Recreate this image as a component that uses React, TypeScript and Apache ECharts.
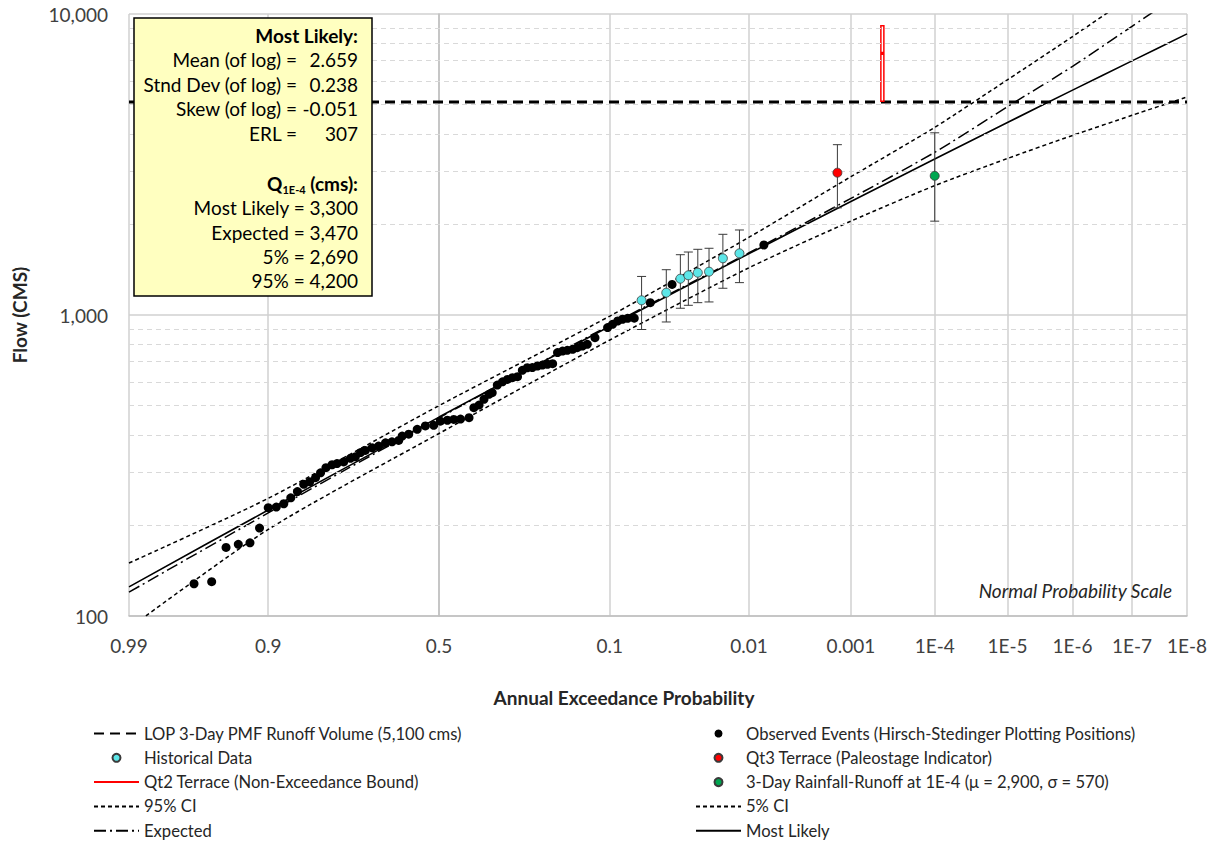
import React, { useEffect, useRef } from 'react';
import * as echarts from 'echarts';

// ---------- axis ticks ----------
const TICK_AEP = [0.99, 0.9, 0.5, 0.1, 0.01, 0.001, 1e-4, 1e-5, 1e-6, 1e-7, 1e-8];
const TICK_LABELS = ['0.99', '0.9', '0.5', '0.1', '0.01', '0.001', '1E-4', '1E-5', '1E-6', '1E-7', '1E-8'];
const Y_MINOR = [200, 300, 400, 500, 600, 700, 800, 900, 2000, 3000, 4000, 5000, 6000, 7000, 8000, 9000];

// ---------- observed events (Hirsch-Stedinger plotting positions) ----------
const OBS_AEP = [0.967, 0.956, 0.945, 0.934, 0.922, 0.911, 0.9, 0.889, 0.878, 0.867, 0.856, 0.845, 0.834, 0.823, 0.813, 0.802, 0.789, 0.778, 0.763, 0.747, 0.735, 0.722, 0.71, 0.692, 0.675, 0.656, 0.638, 0.619, 0.609, 0.59, 0.565, 0.541, 0.516, 0.496, 0.475, 0.456, 0.436, 0.411, 0.397, 0.382, 0.368, 0.354, 0.345, 0.331, 0.317, 0.304, 0.291, 0.278, 0.266, 0.254, 0.242, 0.23, 0.219, 0.208, 0.197, 0.187, 0.177, 0.168, 0.158, 0.15, 0.141, 0.133, 0.121, 0.103, 0.0965, 0.0901, 0.0843, 0.0785, 0.0715, 0.0565, 0.0402, 0.0074];
const OBS_Q = [128, 130, 169, 173, 175, 196, 229, 230, 236, 247, 259, 274, 279, 288, 299, 311, 318, 321, 325, 334, 338, 349, 355, 362, 367, 376, 379, 383, 396, 402, 417, 428, 430, 444, 447, 450, 451, 456, 492, 502, 525, 545, 552, 585, 600, 611, 619, 624, 655, 668, 669, 677, 682, 686, 689, 750, 759, 763, 769, 779, 789, 799, 841, 908, 931, 955, 968, 975, 976, 1099, 1263, 1708];

// ---------- historical data ----------
const HIST_AEP = [0.0643, 0.0441, 0.0351, 0.0307, 0.0261, 0.0214, 0.0166, 0.0121];
const HIST_Q = [1119, 1186, 1320, 1355, 1382, 1393, 1543, 1603];
const HIST_LO = [895, 948, 1053, 1077, 1099, 1105, 1227, 1281];
const HIST_HI = [1343, 1414, 1586, 1619, 1653, 1666, 1854, 1916];

// ---------- paleo / rainfall-runoff ----------
const QT3_AEP = 0.0014, QT3_Q = 2970, QT3_LO = 2270, QT3_HI = 3680;
const RR_AEP = 1e-4, RR_Q = 2900, RR_LO = 2050, RR_HI = 4030;
const QT2_AEP = 0.00044, QT2_LO = 5100, QT2_MID = 7400, QT2_HI = 9200;
const PMF_Q = 5100;

// ---------- frequency curves ----------
const CURVE_AEP = [0.99, 0.9, 0.5, 0.1, 0.01, 0.001, 1e-4, 1e-5, 1e-6, 1e-7, 1e-8];
const ML_Q = [125, 225, 458, 918, 1599, 2384, 3298, 4361, 5585, 6986, 8590];
const EXP_Q = [120, 220, 455, 925, 1610, 2440, 3470, 4920, 6700, 9100, 12100];
const CI95_Q = [150, 246, 500, 992, 1813, 2880, 4200, 6046, 8418, 11480, 15300];
const CI5_Q = [91, 194, 404, 826, 1436, 2050, 2690, 3311, 3950, 4607, 5300];

// ---------- names ----------
const N_PMF = 'LOP 3-Day PMF Runoff Volume (5,100 cms)';
const N_OBS = 'Observed Events (Hirsch-Stedinger Plotting Positions)';
const N_HIST = 'Historical Data';
const N_QT3 = 'Qt3 Terrace (Paleostage Indicator)';
const N_QT2 = 'Qt2 Terrace (Non-Exceedance Bound)';
const N_RR = '3-Day Rainfall-Runoff at 1E-4 (\u03bc = 2,900, \u03c3 = 570)';
const N_95 = '95% CI';
const N_5 = '5% CI';
const N_EXP = 'Expected';
const N_ML = 'Most Likely';

// normal probability scale: AEP -> standard normal variate (Acklam)
function normInv(p: number): number {
  const a = [-3.969683028665376e1, 2.209460984245205e2, -2.759285104469687e2, 1.38357751867269e2, -3.066479806614716e1, 2.506628277459239];
  const b = [-5.447609879822406e1, 1.615858368580409e2, -1.556989798598866e2, 6.680131188771972e1, -1.328068155288572e1];
  const c = [-7.784894002430293e-3, -3.223964580411365e-1, -2.400758277161838, -2.549732539343734, 4.374664141464968, 2.938163982698783];
  const d = [7.784695709041462e-3, 3.224671290700398e-1, 2.445134137142996, 3.754408661907416];
  const pl = 0.02425;
  if (p < pl) {
    const q = Math.sqrt(-2 * Math.log(p));
    return (((((c[0] * q + c[1]) * q + c[2]) * q + c[3]) * q + c[4]) * q + c[5]) / ((((d[0] * q + d[1]) * q + d[2]) * q + d[3]) * q + 1);
  }
  if (p <= 1 - pl) {
    const q = p - 0.5, r = q * q;
    return ((((((a[0] * r + a[1]) * r + a[2]) * r + a[3]) * r + a[4]) * r + a[5]) * q) / (((((b[0] * r + b[1]) * r + b[2]) * r + b[3]) * r + b[4]) * r + 1);
  }
  const q = Math.sqrt(-2 * Math.log(1 - p));
  return -(((((c[0] * q + c[1]) * q + c[2]) * q + c[3]) * q + c[4]) * q + c[5]) / ((((d[0] * q + d[1]) * q + d[2]) * q + d[3]) * q + 1);
}
const zOf = (aep: number) => -normInv(aep);

const Z_TICKS = TICK_AEP.map(zOf);
const X_MIN = Z_TICKS[0];
const X_MAX = Z_TICKS[Z_TICKS.length - 1];

const FONT = 'Lato, "Open Sans", sans-serif';
const TXT = '#262626';

function tickLabel(v: number): string {
  let best = 0;
  for (let i = 1; i < Z_TICKS.length; i++) {
    if (Math.abs(Z_TICKS[i] - v) < Math.abs(Z_TICKS[best] - v)) best = i;
  }
  return TICK_LABELS[best];
}

function errRender(cap: number) {
  return (params: any, api: any) => {
    const x = api.value(0);
    const lo = api.coord([x, api.value(1)]);
    const hi = api.coord([x, api.value(2)]);
    const st = { stroke: '#3A3A3A', lineWidth: 1 };
    return {
      type: 'group',
      children: [
        { type: 'line', shape: { x1: lo[0], y1: lo[1], x2: hi[0], y2: hi[1] }, style: st },
        { type: 'line', shape: { x1: lo[0] - cap, y1: lo[1], x2: lo[0] + cap, y2: lo[1] }, style: st },
        { type: 'line', shape: { x1: hi[0] - cap, y1: hi[1], x2: hi[0] + cap, y2: hi[1] }, style: st },
      ],
    };
  };
}

const curve = (qs: number[]) => CURVE_AEP.map((p, i) => [zOf(p), qs[i]]);
const lineItem = (name: string, extra: any = {}) => ({ name, itemStyle: { opacity: 0 }, ...extra });

function buildOption(): any {
  const zQt2 = zOf(QT2_AEP);
  const boxText = (text: string, x: number, y: number, bold = false) => ({
    type: 'text',
    z: 101,
    x,
    y,
    style: { text, align: 'right', verticalAlign: 'middle', font: `${bold ? 'bold ' : ''}19px ${FONT}`, fill: '#000' },
  });
  const rows = [35, 59.5, 84, 108.5, 133];
  const rows2 = [207.5, 232, 256.5, 280.5];
  const labelCol = 297, valCol = 358;
  const labels = ['Mean (of log) =', 'Stnd Dev (of log) =', 'Skew (of log) =', 'ERL ='];
  const vals = ['2.659', '0.238', '-0.051', '307'];
  const qLines = ['Most Likely = 3,300', 'Expected = 3,470', '5% = 2,690', '95% = 4,200'];

  const graphic: any[] = [
    { type: 'rect', z: 100, shape: { x: 134, y: 18, width: 238, height: 278 }, style: { fill: '#FFFFC0', stroke: '#000', lineWidth: 1.5 } },
    boxText('Most Likely:', valCol, rows[0], true),
    ...labels.map((t, i) => boxText(t, labelCol, rows[i + 1])),
    ...vals.map((t, i) => boxText(t, valCol, rows[i + 1])),
    {
      type: 'text', z: 101, x: valCol, y: 183.5,
      style: {
        text: '{b|Q}{s|1E-4}{b| (cms):}', align: 'right', verticalAlign: 'middle',
        rich: {
          b: { font: `bold 19px ${FONT}`, fill: '#000', lineHeight: 22, verticalAlign: 'middle' },
          s: { font: `bold 11px ${FONT}`, fill: '#000', lineHeight: 8, verticalAlign: 'bottom' },
        },
      },
    },
    ...qLines.map((t, i) => boxText(t, valCol, rows2[i])),
    { type: 'text', z: 101, x: 1172, y: 590, style: { text: 'Normal Probability Scale', align: 'right', verticalAlign: 'middle', font: `italic 19px ${FONT}`, fill: TXT } },
    { type: 'text', z: 101, x: 624, y: 697, style: { text: 'Annual Exceedance Probability', align: 'center', verticalAlign: 'middle', font: `bold 19px ${FONT}`, fill: TXT } },
    { type: 'text', z: 101, x: 19, y: 315, rotation: Math.PI / 2, style: { text: 'Flow (CMS)', align: 'center', verticalAlign: 'middle', font: `bold 19px ${FONT}`, fill: TXT } },
  ];

  const legendBase = {
    orient: 'vertical', top: 725, padding: 0, itemWidth: 45, itemHeight: 8, itemGap: 7.3,
    selectedMode: false,
    textStyle: { fontFamily: FONT, fontSize: 16.6, color: TXT, lineHeight: 17 },
  };

  return {
    animation: false,
    grid: { left: 129, top: 14, width: 1058, height: 602, containLabel: false },
    xAxis: {
      type: 'value', min: X_MIN, max: X_MAX,
      axisLine: { show: true, lineStyle: { color: '#BFBFBF', width: 1.5 } },
      axisTick: { show: false, customValues: Z_TICKS },
      axisLabel: { customValues: Z_TICKS, formatter: (v: number) => tickLabel(v), margin: 20, fontSize: 19, fontFamily: FONT, color: '#404040' },
      splitLine: { show: true, lineStyle: { color: '#D0D0D0', width: 1.5 } },
    },
    yAxis: {
      type: 'log', logBase: 10, min: 100, max: 10000,
      axisLine: { show: true, lineStyle: { color: '#BFBFBF', width: 1.5 } },
      axisTick: { show: false },
      axisLabel: { formatter: (v: number) => Number(v).toLocaleString('en-US'), margin: 21, fontSize: 19, fontFamily: FONT, color: '#404040' },
      splitLine: { show: true, lineStyle: { color: '#D0D0D0', width: 1.5 } },
    },
    legend: [
      {
        ...legendBase, left: 93,
        data: [lineItem(N_PMF), N_HIST, lineItem(N_QT2, { lineStyle: { width: 2 } }), lineItem(N_95), lineItem(N_EXP)],
      },
      {
        ...legendBase, left: 695,
        data: [N_OBS, N_QT3, N_RR, lineItem(N_5), lineItem(N_ML)],
      },
    ],
    graphic,
    series: [
      {
        name: '_grid', type: 'line', data: [[X_MIN, 100]], symbol: 'none', silent: true,
        lineStyle: { opacity: 0 }, z: 1,
        markLine: {
          silent: true, symbol: 'none', label: { show: false },
          lineStyle: { type: [5, 4], color: '#D9D9D9', width: 1 },
          data: Y_MINOR.map((v) => ({ yAxis: v })),
        },
      },
      { name: N_95, type: 'line', data: curve(CI95_Q), symbol: 'none', smooth: 0.25, itemStyle: { color: '#000' }, lineStyle: { color: '#000', width: 1.5, type: [4, 3] }, z: 3 },
      { name: N_5, type: 'line', data: curve(CI5_Q), symbol: 'none', smooth: 0.25, itemStyle: { color: '#000' }, lineStyle: { color: '#000', width: 1.5, type: [4, 3] }, z: 3 },
      { name: N_EXP, type: 'line', data: curve(EXP_Q), symbol: 'none', smooth: 0.25, itemStyle: { color: '#000' }, lineStyle: { color: '#000', width: 1.5, type: [12, 4, 2, 4] }, z: 3 },
      { name: N_ML, type: 'line', data: curve(ML_Q), symbol: 'none', smooth: 0.25, itemStyle: { color: '#000' }, lineStyle: { color: '#000', width: 1.6 }, z: 3 },
      { name: N_PMF, type: 'line', data: [[X_MIN, PMF_Q], [X_MAX, PMF_Q]], symbol: 'none', itemStyle: { color: '#000' }, lineStyle: { color: '#000', width: 3, type: [10, 6] }, z: 3 },
      { name: N_QT2, type: 'line', data: [[zQt2, QT2_LO], [zQt2, QT2_HI]], symbol: 'none', itemStyle: { color: '#FF0000' }, lineStyle: { color: '#FF0000', width: 4.5, cap: 'butt' }, z: 4 },
      {
        name: '_qt2in', type: 'line', symbol: 'none', silent: true, connectNulls: false,
        data: [[zQt2, QT2_LO * 1.012], [zQt2, QT2_MID / 1.012], [zQt2, '-'], [zQt2, QT2_MID * 1.012], [zQt2, QT2_HI / 1.012]],
        lineStyle: { color: '#FFFFFF', width: 1.5 }, z: 5,
      },
      {
        name: '_histErr', type: 'custom', silent: true, z: 5,
        renderItem: errRender(4.5),
        encode: { x: 0, y: [1, 2] },
        data: HIST_AEP.map((p, i) => [zOf(p), HIST_LO[i], HIST_HI[i]]),
      },
      {
        name: '_otherErr', type: 'custom', silent: true, z: 5,
        renderItem: errRender(4.5),
        encode: { x: 0, y: [1, 2] },
        data: [[zOf(QT3_AEP), QT3_LO, QT3_HI], [zOf(RR_AEP), RR_LO, RR_HI]],
      },
      { name: N_OBS, type: 'scatter', symbol: 'circle', symbolSize: 9, data: OBS_AEP.map((p, i) => [zOf(p), OBS_Q[i]]), itemStyle: { color: '#000', opacity: 1 }, z: 6 },
      { name: N_HIST, type: 'scatter', symbol: 'circle', symbolSize: 9, data: HIST_AEP.map((p, i) => [zOf(p), HIST_Q[i]]), itemStyle: { color: '#5CE6E8', borderColor: '#3A3A3A', borderWidth: 0.8, opacity: 1 }, z: 7 },
      { name: N_QT3, type: 'scatter', symbol: 'circle', symbolSize: 9, data: [[zOf(QT3_AEP), QT3_Q]], itemStyle: { color: '#FF0000', borderColor: '#3A3A3A', borderWidth: 0.8, opacity: 1 }, z: 7 },
      { name: N_RR, type: 'scatter', symbol: 'circle', symbolSize: 9, data: [[zOf(RR_AEP), RR_Q]], itemStyle: { color: '#00A650', borderColor: '#3A3A3A', borderWidth: 0.8, opacity: 1 }, z: 7 },
    ],
  };
}

export default function App() {
  const ref = useRef<HTMLDivElement>(null);
  useEffect(() => {
    if (!ref.current) return;
    const chart = echarts.init(ref.current, null, { renderer: 'svg' });
    chart.setOption(buildOption());
    return () => chart.dispose();
  }, []);
  return <div ref={ref} style={{ position: 'absolute', left: 0, top: 0, width: 1216, height: 845, background: '#fff' }} />;
}
